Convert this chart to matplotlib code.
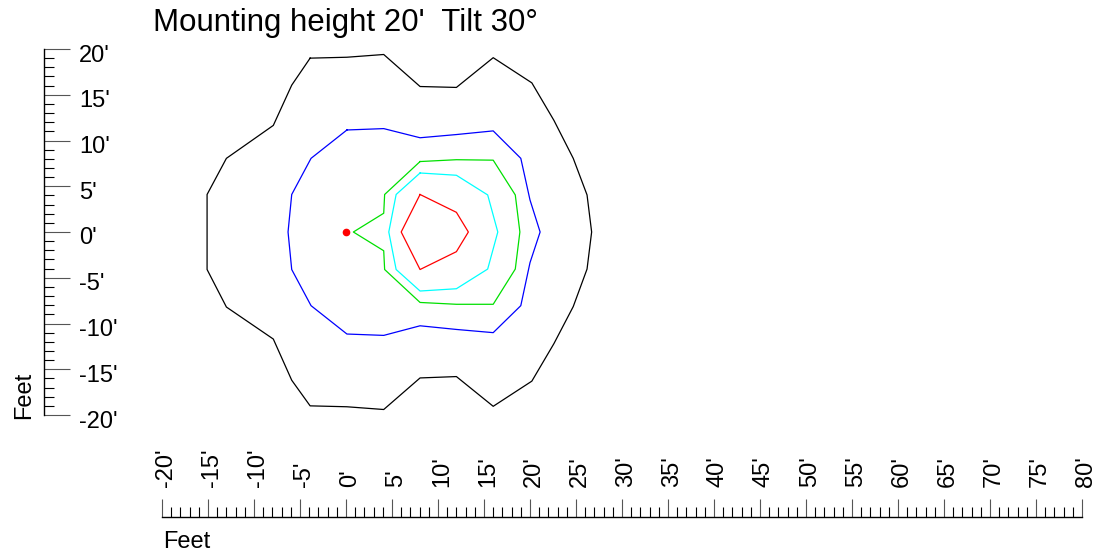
import matplotlib
matplotlib.use("Agg")
import matplotlib.pyplot as plt
from matplotlib.ticker import MultipleLocator, FixedLocator, FixedFormatter
from matplotlib.transforms import ScaledTranslation

plt.rcParams['font.family'] = ['Liberation Sans', 'DejaVu Sans']

# contour lines (feet)
black_x = [-3.9, 0.1, 4.1, 8.05, 12.0, 16.0, 20.2, 22.6, 24.7, 26.2, 26.7, 26.2, 24.7, 22.6, 20.2,
           16.0, 12.0, 8.05, 4.1, 0.1, -3.9, -5.9, -7.9, -13.0, -15.1, -15.1, -15.1, -13.0, -7.9, -5.9, -3.9]
black_y = [19.0, 19.1, 19.4, 15.9, 15.8, 19.05, 16.3, 12.2, 8.05, 4.05, 0.0, -4.05, -8.15, -12.2, -16.3,
           -19.05, -15.8, -15.95, -19.4, -19.1, -19.0, -16.2, -11.7, -8.2, -4.1, 0.0, 4.1, 8.05, 11.65, 16.05, 19.0]

blue_x = [0.1, 4.1, 8.05, 12.0, 16.0, 19.0, 20.0, 21.1, 20.0, 19.0, 16.0, 12.0, 8.05, 4.1, 0.1,
          -3.8, -5.9, -6.3, -5.9, -3.8, 0.1]
blue_y = [11.15, 11.3, 10.3, 10.65, 11.05, 8.05, 3.5, 0.0, -3.35, -8.05, -11.0, -10.65, -10.25, -11.3, -11.15,
          -8.05, -4.1, 0.0, 4.1, 8.05, 11.15]

green_x = [8.05, 12.0, 16.0, 18.4, 18.9, 18.4, 16.0, 12.0, 8.05, 4.2, 4.1, 0.8, 4.1, 4.2, 8.05]
green_y = [7.7, 7.9, 7.85, 4.05, 0.0, -4.05, -7.9, -7.9, -7.7, -4.1, -2.05, 0.0, 2.05, 4.1, 7.7]

cyan_x = [8.05, 12.0, 15.4, 16.5, 15.4, 12.0, 8.05, 5.45, 4.65, 5.45, 8.05]
cyan_y = [6.45, 6.2, 4.05, 0.0, -4.05, -6.2, -6.45, -4.1, 0.0, 4.1, 6.45]

red_x = [8.05, 12.0, 13.3, 12.0, 8.05, 6.0, 8.05]
red_y = [4.1, 2.15, 0.0, -2.15, -4.1, 0.0, 4.1]

# luminaire position
lum_x = [0.0]
lum_y = [0.0]

x_ticks = list(range(-20, 85, 5))
y_ticks = list(range(-20, 25, 5))
x_labels = [f"{v}'" for v in x_ticks]
y_labels = [f"{v}'" for v in y_ticks]

W, H = 1116, 554
fig = plt.figure(figsize=(W / 100, H / 100), dpi=100)

left, right, top, bot = 162, 1082, 49, 415
ax = fig.add_axes([left / W, 1 - bot / H, (right - left) / W, (bot - top) / H])
ax.set_xlim(-20, 80)
ax.set_ylim(-20, 20)
ax.axis('off')

lw = 0.9
ax.plot(black_x, black_y, color='black', lw=lw)
ax.plot(blue_x, blue_y, color='#0000ff', lw=lw)
ax.plot(green_x, green_y, color='#00e000', lw=lw)
ax.plot(cyan_x, cyan_y, color='#00ffff', lw=lw)
ax.plot(red_x, red_y, color='#ff0000', lw=lw)
ax.plot(lum_x, lum_y, 'o', color='red', ms=4.5)

fs = 17

# left ruler
axl = fig.add_axes([43.5 / W, 1 - bot / H, 0.0001, (bot - top) / H])
axl.set_ylim(-20, 20)
axl.set_xticks([])
for s in ['left', 'top', 'bottom']:
    axl.spines[s].set_visible(False)
axl.spines['right'].set_linewidth(1.0)
axl.yaxis.tick_right()
axl.yaxis.set_major_locator(FixedLocator(y_ticks))
axl.yaxis.set_major_formatter(FixedFormatter(y_labels))
axl.yaxis.set_minor_locator(MultipleLocator(1))
axl.tick_params(axis='y', which='major', direction='out', length=18.7, width=0.8,
                labelsize=fs, pad=7, color='#555555')
axl.tick_params(axis='y', which='minor', direction='out', length=7.2, width=0.8, color='black')
for lab in axl.get_yticklabels():
    lab.set_transform(lab.get_transform() + ScaledTranslation(0, -4 / 100, fig.dpi_scale_trans))

# bottom ruler
axb = fig.add_axes([left / W, 1 - 516.7 / H, (right - left) / W, 0.0001])
axb.set_xlim(-20, 80)
axb.set_yticks([])
for s in ['left', 'right', 'bottom']:
    axb.spines[s].set_visible(False)
axb.spines['top'].set_linewidth(1.0)
axb.xaxis.tick_top()
axb.xaxis.set_major_locator(FixedLocator(x_ticks))
axb.xaxis.set_major_formatter(FixedFormatter(x_labels))
axb.xaxis.set_minor_locator(MultipleLocator(1))
axb.tick_params(axis='x', which='major', direction='out', length=13, width=0.8,
                labelsize=fs, pad=8, labelrotation=90, color='#555555')
axb.tick_params(axis='x', which='minor', direction='out', length=7.5, width=0.8, color='black')
for lab in axb.get_xticklabels():
    lab.set_transform(lab.get_transform() + ScaledTranslation(4 / 100, 0, fig.dpi_scale_trans))

fig.text(153 / W, 1 - 31 / H, "Mounting height 20'  Tilt 30\u00b0", fontsize=22.5,
         ha='left', va='baseline')
fig.text(163 / W, 1 - 548 / H, "Feet", fontsize=fs, ha='left', va='baseline')
fig.text(24 / W, 1 - 395 / H, "Feet", fontsize=fs, rotation=90, ha='center', va='center')

fig.savefig('out.png', dpi=100)
